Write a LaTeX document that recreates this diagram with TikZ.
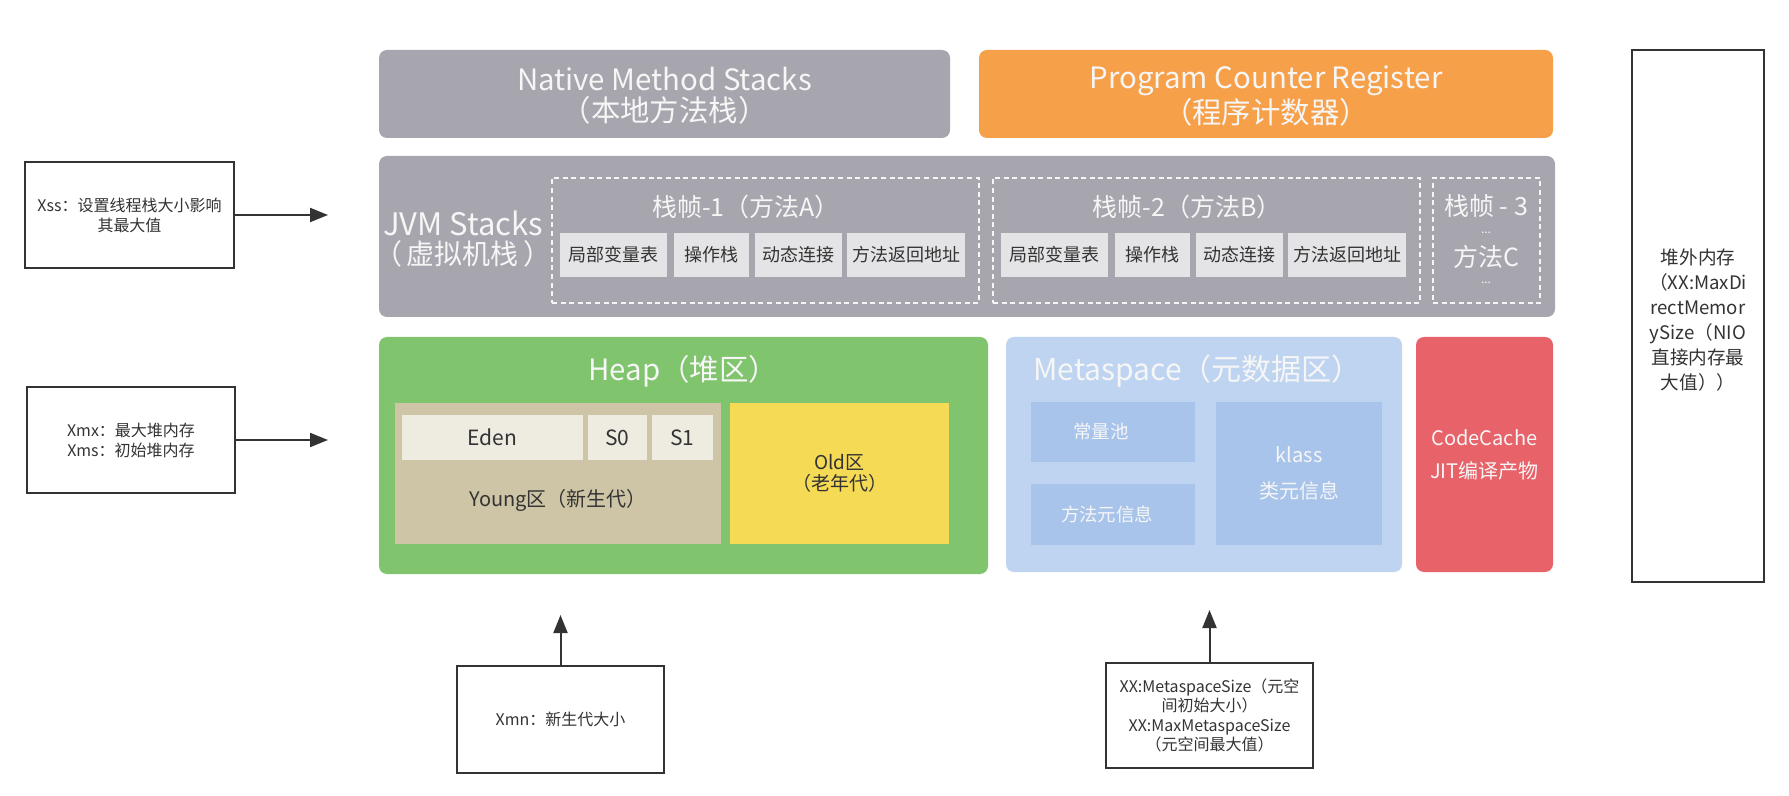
\documentclass[tikz,border=0pt]{standalone}
\usepackage{fontspec}
\setmainfont{Noto Sans CJK SC}
\definecolor{JVMgray}{HTML}{A7A6AE}
\definecolor{JVMorange}{HTML}{F6A04A}
\definecolor{JVMcell}{HTML}{E4E4E6}
\definecolor{JVMgreen}{HTML}{80C46D}
\definecolor{JVMtan}{HTML}{CEC5A6}
\definecolor{JVMcream}{HTML}{EEEBE1}
\definecolor{JVMyellow}{HTML}{F5DA55}
\definecolor{JVMsky}{HTML}{BFD4F0}
\definecolor{JVMblue}{HTML}{A8C4EB}
\definecolor{JVMred}{HTML}{E8626A}
\definecolor{JVMink}{HTML}{333333}
\definecolor{JVMpaper}{HTML}{F6F6F6}
\usetikzlibrary{arrows.meta, fit, positioning}

\begin{document}
\begin{tikzpicture}[x=0.5pt, y=-0.5pt,
   area/.style={rounded corners=4pt, inner sep=0pt},
   block/.style={inner sep=0pt},
   frame/.style={draw=JVMpaper, dash pattern=on 2.5pt off 1.8pt, line width=0.7pt, inner sep=0pt},
   light/.style={text=JVMpaper, align=center, inner sep=0pt},
   dark/.style={text=JVMink, align=center, inner sep=0pt},
   note/.style={draw=JVMink, line width=1pt, fill=white, inner sep=0pt},
   arrow/.style={-{Triangle[length=9pt, width=7pt]}, JVMink, line width=1pt}]
   \useasboundingbox (0,0) rectangle (1789,796);
   % Top row
   \node[area, fill=JVMgray, fit={(379,50) (950,138)}] (native) {};
   \node[light, font=\fontsize{14.7}{15.5}\selectfont] (nativetext) at ([yshift=-1pt]native)
      {Native Method Stacks\\（本地方法栈）};
   \node[area, fill=JVMorange, fit={(979,50) (1553,138)}] (pc) {};
   \node[light, font=\fontsize{14.7}{15.5}\selectfont] (pctext) at ([yshift=-1pt]pc)
      {Program Counter Register\\（程序计数器）};
   % JVM stacks with its frames
   \node[area, fill=JVMgray, fit={(379,156) (1555,317)}] (jvm) {};
   \node[light, font=\fontsize{15.5}{14.5}\selectfont] (jvmtext) at (463,239)
      {JVM Stacks\\{\fontsize{14}{14}\selectfont（\hspace{0.15em}虚拟机栈\hspace{0.15em}）}};
   \foreach \k/\dx/\m in {1/0/A, 2/441/B} {
      \node[frame, fit={(552+\dx,178) (979+\dx,303)}] (frame\k) {};
      \node[light, font=\fontsize{12.5}{14}\selectfont] (ftitle\k) at (746+\dx,207)
         {栈帧-\k（方法\m）};
      \node[block, fill=JVMcell, fit={(560+\dx,233) (667+\dx,277)}] (local\k) {};
      \node[block, fill=JVMcell, fit={(674+\dx,233) (749+\dx,277)}] (operand\k) {};
      \node[block, fill=JVMcell, fit={(755+\dx,233) (842+\dx,277)}] (dynlink\k) {};
      \node[block, fill=JVMcell, fit={(847+\dx,233) (965+\dx,277)}] (retaddr\k) {};
      \node[dark, font=\fontsize{9}{10}\selectfont] (localtext\k) at (local\k) {局部变量表};
      \node[dark, font=\fontsize{9}{10}\selectfont] (operandtext\k) at (operand\k) {操作栈};
      \node[dark, font=\fontsize{9}{10}\selectfont] (dynlinktext\k) at (dynlink\k) {动态连接};
      \node[dark, font=\fontsize{9}{10}\selectfont] (retaddrtext\k) at (retaddr\k) {方法返回地址};
   }
   \node[frame, fit={(1433,178) (1540,303)}] (frame3) {};
   \node[light, font=\fontsize{12.5}{14}\selectfont] (ftitle3) at (1486,206) {栈帧 - 3};
   \node[light, font=\fontsize{6}{6}\selectfont] (dotsup) at (1486,233) {...};
   \node[light, font=\fontsize{12.5}{14}\selectfont] (methodc) at (1486,257) {方法C};
   \node[light, font=\fontsize{6}{6}\selectfont] (dotsdown) at (1486,283) {...};
   % Heap
   \node[area, fill=JVMgreen, fit={(379,337) (988,574)}] (heap) {};
   \node[light, font=\fontsize{14.7}{15}\selectfont] (heaptext) at (683,371) {Heap（堆区）};
   \node[block, fill=JVMtan, fit={(395,403) (721,544)}] (young) {};
   \node[block, fill=JVMcream, fit={(402,415) (583,460)}] (eden) {};
   \node[block, fill=JVMcream, fit={(588,415) (647,460)}] (s0) {};
   \node[block, fill=JVMcream, fit={(652,415) (713,460)}] (s1) {};
   \node[dark, font=\fontsize{10.5}{11}\selectfont] (edentext) at (eden) {Eden};
   \node[dark, font=\fontsize{10.5}{11}\selectfont] (s0text) at (s0) {S0};
   \node[dark, font=\fontsize{10.5}{11}\selectfont] (s1text) at (s1) {S1};
   \node[dark, font=\fontsize{10}{11}\selectfont] (youngtext) at (558,500) {Young区（新生代）};
   \node[block, fill=JVMyellow, fit={(730,403) (949,544)}] (old) {};
   \node[dark, font=\fontsize{9.5}{10.5}\selectfont] (oldtext) at (old) {Old区\\（老年代）};
   % Metaspace
   \node[area, fill=JVMsky, fit={(1006,337) (1402,572)}] (meta) {};
   \node[light, anchor=west, font=\fontsize{15}{16}\selectfont] (metatext) at (1033,371)
      {Metaspace（元数据区）};
   \node[block, fill=JVMblue, fit={(1031,402) (1195,462)}] (pool) {};
   \node[block, fill=JVMblue, fit={(1031,484) (1195,545)}] (methodmeta) {};
   \node[block, fill=JVMblue, fit={(1216,402) (1382,545)}] (klass) {};
   \node[light, font=\fontsize{9.2}{10}\selectfont] (pooltext) at ([xshift=-6pt]pool) {常量池};
   \node[light, font=\fontsize{9.2}{10}\selectfont] (methodmetatext) at ([xshift=-3pt]methodmeta) {方法元信息};
   \node[light, font=\fontsize{10}{18}\selectfont] (klasstext) at (klass) {klass\\类元信息};
   % Code cache
   \node[area, fill=JVMred, fit={(1416,337) (1553,572)}] (codecache) {};
   \node[light, font=\fontsize{10}{16.5}\selectfont] (codecachetext) at (codecache)
      {CodeCache\\JIT编译产物};
   % Off-heap memory
   \node[note, fit={(1632,50) (1764,582)}] (direct) {};
   \node[dark, font=\fontsize{9.3}{12.5}\selectfont] (directtext) at ([yshift=-2pt]direct)
      {堆外内存\\（XX:MaxDi\\rectMemor\\ySize（NIO\\直接内存最\\大值））};
   % Option notes and their arrows
   \node[note, fit={(25,162) (234,268)}] (xss) {};
   \node[dark, font=\fontsize{8}{10}\selectfont] (xsstext) at (xss) {Xss：设置线程栈大小影响\\其最大值};
   \node[note, fit={(27,387) (235,493)}] (xmx) {};
   \node[dark, font=\fontsize{8}{10}\selectfont] (xmxtext) at (xmx) {Xmx：最大堆内存\\Xms：初始堆内存};
   \node[note, fit={(457,666) (664,773)}] (xmn) {};
   \node[dark, font=\fontsize{8}{10}\selectfont] (xmntext) at (xmn) {Xmn：新生代大小};
   \node[note, fit={(1106,663) (1313,768)}] (metasize) {};
   \node[dark, font=\fontsize{8}{9.7}\selectfont] (metasizetext) at (metasize)
      {XX:MetaspaceSize（元空\\间初始大小）\\XX:MaxMetaspaceSize\\（元空间最大值）};
   \coordinate (xsstip) at (328,215);
   \coordinate (xmxtip) at (328,440);
   \coordinate (xmntip) at (560.5,615);
   \coordinate (metatip) at (1209.5,610);
   \draw[arrow] (xss.east) -- (xsstip);
   \draw[arrow] (xmx.east) -- (xmxtip);
   \draw[arrow] (xmn.north) -- (xmntip);
   \draw[arrow] (metasize.north) -- (metatip);
\end{tikzpicture}
\end{document}
